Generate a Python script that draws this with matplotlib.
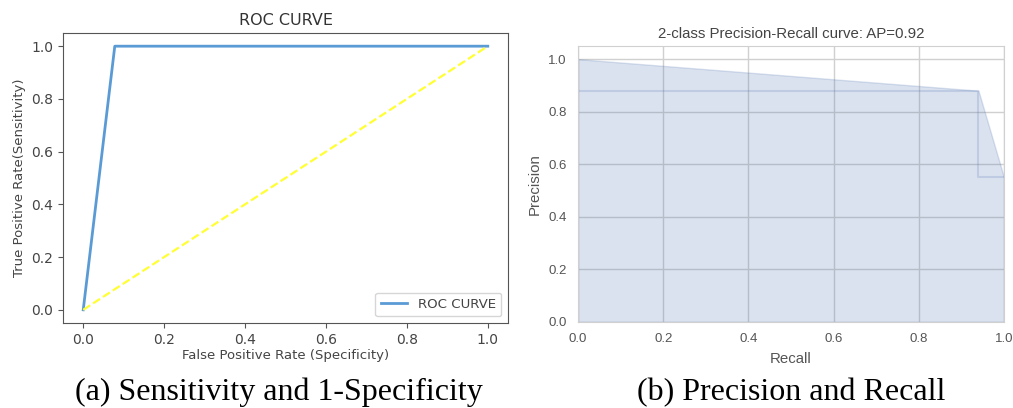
import matplotlib
matplotlib.use("Agg")
import matplotlib.pyplot as plt
import seaborn as sns

# ROC data
fpr = [0.0, 0.078, 1.0]
tpr = [0.0, 1.0, 1.0]
chance = [0.0, 1.0]

# precision-recall data (sklearn order: recall decreasing)
precision = [0.55, 0.88, 1.0]
recall = [1.0, 0.94, 0.0]
ap = 0.92

W, H = 1013, 408
fig = plt.figure(figsize=(W / 100, H / 100), dpi=100)


def px_axes(left, top, right, bottom):
    return fig.add_axes([left / W, 1 - bottom / H, (right - left) / W, (bottom - top) / H])


# (a) ROC curve, plain matplotlib look
ax1 = px_axes(63, 33, 508, 323)
ax1.plot(fpr, tpr, color="#5b9bd5", lw=2, label="ROC CURVE")
ax1.plot(chance, chance, color="#ffff33", lw=1.6, linestyle="--")
ax1.set_xlim(-0.05, 1.05)
ax1.set_ylim(-0.05, 1.05)
ax1.set_xticks([0, 0.2, 0.4, 0.6, 0.8, 1.0])
ax1.set_yticks([0, 0.2, 0.4, 0.6, 0.8, 1.0])
ax1.tick_params(labelsize=10, colors="#555555", labelcolor="#444444")
for s in ax1.spines.values():
    s.set_color("#555555")
ax1.set_title("ROC CURVE", fontsize=11.5, color="#333333")
ax1.set_xlabel("False Positive Rate (Specificity)", fontsize=9.5, color="#444444", labelpad=2)
ax1.set_ylabel("True Positive Rate(Sensitivity)", fontsize=9.5, color="#444444")
leg = ax1.legend(loc="lower right", fontsize=9.6)
for t in leg.get_texts():
    t.set_color("#444444")

# (b) precision-recall curve, seaborn whitegrid look
with sns.axes_style("whitegrid"):
    ax2 = px_axes(578, 46, 1004, 322)
    ax2.step(recall, precision, color="#4C72B0", alpha=0.2, where="post")
    ax2.fill_between(recall, precision, color="#4C72B0", alpha=0.2)
    ax2.set_xlim(0.0, 1.0)
    ax2.set_ylim(0.0, 1.05)
    ax2.set_xticks([0, 0.2, 0.4, 0.6, 0.8, 1.0])
    ax2.set_yticks([0, 0.2, 0.4, 0.6, 0.8, 1.0])
    ax2.grid(True, color="#d0d0d0", lw=1)
    for s in ax2.spines.values():
        s.set_color("#d0d0d0")
    ax2.tick_params(labelsize=9.5, colors="#555555", length=0, pad=8)
    for lab in ax2.get_xticklabels() + ax2.get_yticklabels():
        lab.set_family("Liberation Sans")
    ax2.set_xlabel("Recall", fontsize=10.8, color="#555555", family="Liberation Sans", labelpad=5)
    ax2.set_ylabel("Precision", fontsize=10.8, color="#555555", family="Liberation Sans", labelpad=5)
    ax2.set_title("2-class Precision-Recall curve: AP={0:0.2f}".format(ap),
                  fontsize=10.8, color="#444444", family="Liberation Sans", pad=6)

# captions
fig.text(279 / W, 1 - 400 / H, "(a) Sensitivity and 1-Specificity", ha="center", va="baseline",
         family="Liberation Serif", fontsize=23)
fig.text(791 / W, 1 - 400 / H, "(b) Precision and Recall", ha="center", va="baseline",
         family="Liberation Serif", fontsize=23)

fig.savefig("out.png", dpi=100)
